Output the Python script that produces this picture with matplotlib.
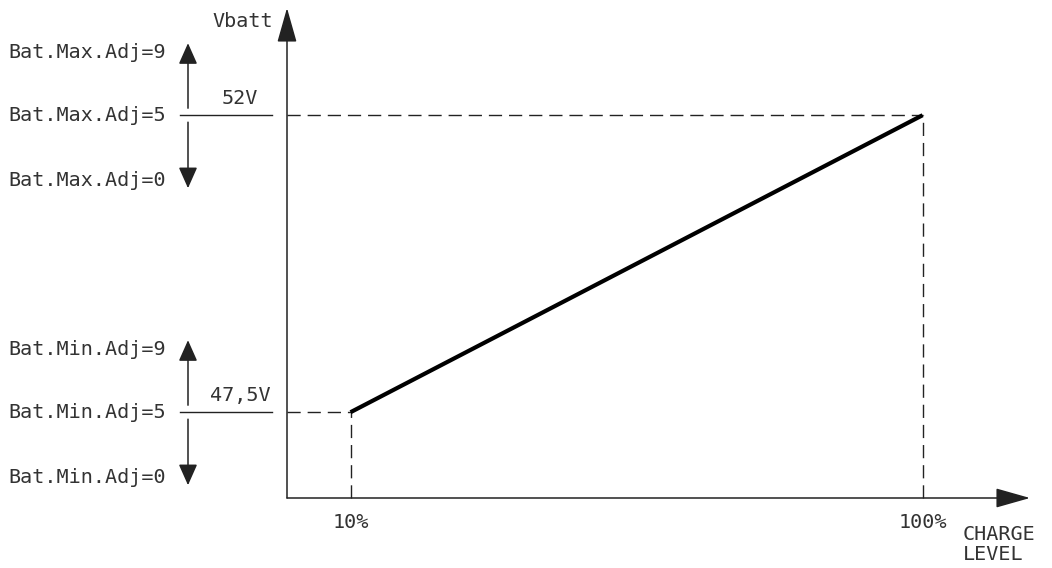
import matplotlib.pyplot as plt

# data
charge = [10, 100]            # charge level, %
vbatt = [47.5, 52.0]          # battery voltage, V
x_tick_labels = ["10%", "100%"]
v_labels = ["47,5V", "52V"]
max_adj_labels = ["Bat.Max.Adj=9", "Bat.Max.Adj=5", "Bat.Max.Adj=0"]
min_adj_labels = ["Bat.Min.Adj=9", "Bat.Min.Adj=5", "Bat.Min.Adj=0"]

# pixel calibration of the drawing (origin of the axes at 0 %, 46.2 V)
X0_PX, X_SCALE = 287, 6.356   # px per %
Y0_PX, Y_SCALE = 498, 66.0    # px per V
V_ORIGIN = 46.2
W, H = 1052, 568


def to_data(px, py):
    return (px - X0_PX) / X_SCALE, V_ORIGIN + (Y0_PX - py) / Y_SCALE


TXT = dict(family=["DejaVu Sans Mono"], fontsize=14.5, color="#333333")
INK = "#222222"

fig = plt.figure(figsize=(W / 100, H / 100), dpi=100)
ax = fig.add_axes([0, 0, 1, 1])
ax.set_xlim(to_data(0, 0)[0], to_data(W, 0)[0])
ax.set_ylim(to_data(0, H)[1], to_data(0, 0)[1])
ax.axis("off")


def arrow(p_from, p_to, hl=30, hw=8):
    ax.annotate("", xy=to_data(*p_to), xytext=to_data(*p_from),
                arrowprops=dict(arrowstyle=f"-|>,head_length={hl / 1.389 / 20:.3f},"
                                           f"head_width={hw / 1.389 / 20:.3f}",
                                mutation_scale=20, lw=1.1, color=INK,
                                shrinkA=0, shrinkB=0))


# axes with arrows
arrow((X0_PX, Y0_PX), (X0_PX, 8), hw=8.5)
arrow((X0_PX, Y0_PX), (1030, Y0_PX), hw=8.5)
ax.text(*to_data(273, 21), "Vbatt", ha="right", va="center", **TXT)
ax.text(*to_data(963, 535), "CHARGE", ha="left", va="center", **TXT)
ax.text(*to_data(963, 555), "LEVEL", ha="left", va="center", **TXT)

# dashed guides and the charge curve
for c, v in zip(charge, vbatt):
    ax.plot([0, c], [v, v], color=INK, lw=1.0, dashes=(9.5, 5))
    ax.plot([c, c], [V_ORIGIN, v], color=INK, lw=1.0, dashes=(9.5, 5))
ax.plot(charge, vbatt, color="black", lw=3.0, solid_capstyle="butt")

for c, lab in zip(charge, x_tick_labels):
    ax.text(c, to_data(0, 522)[1], lab, ha="center", va="center", **TXT)

# left-hand adjustment annotations
for v, vlab, labels in zip(vbatt, v_labels, [min_adj_labels, max_adj_labels]):
    py = Y0_PX - (v - V_ORIGIN) * Y_SCALE
    ax.plot([to_data(180, 0)[0], to_data(272, 0)[0]], [v, v], color=INK, lw=1.0)
    ax.text(*to_data(240, py - 7), vlab, ha="center", va="bottom", **TXT)
    for lab, dy in zip(labels, [-63, 0, 65]):
        ax.text(*to_data(8, py + dy), lab, ha="left", va="center", **TXT)
    arrow((188, py - 7), (188, py - 72), hl=18, hw=8)
    arrow((188, py + 7), (188, py + 73), hl=18, hw=8)

fig.savefig("out.png", dpi=100)
